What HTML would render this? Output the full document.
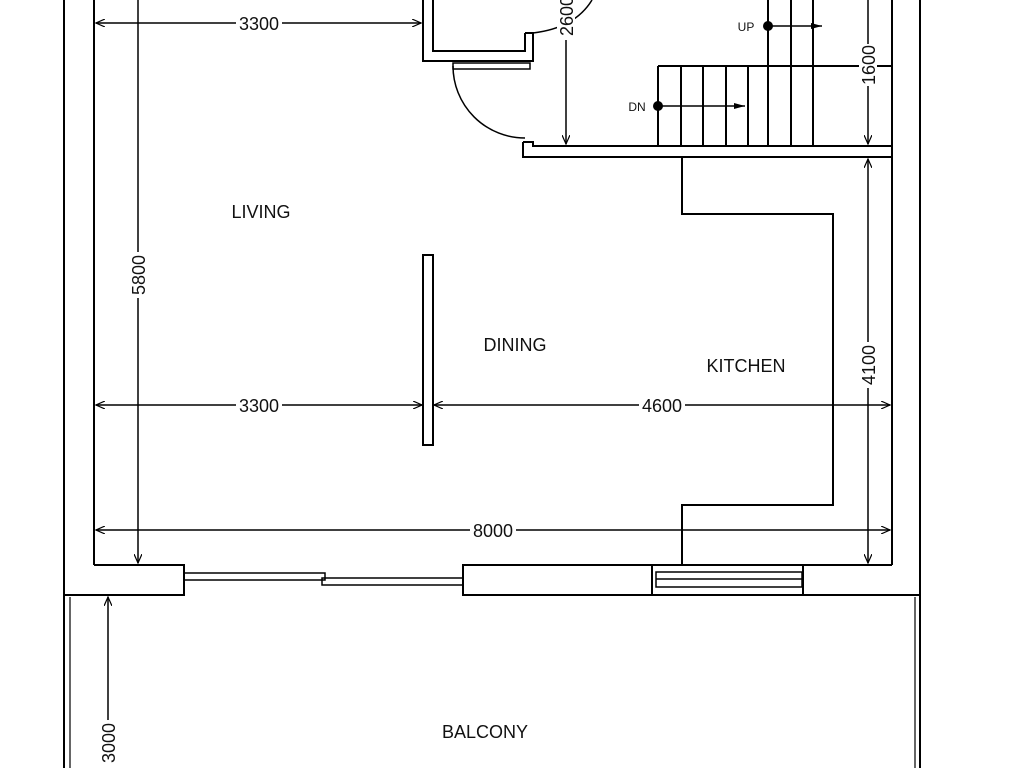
<!DOCTYPE html>
<html><head><meta charset="utf-8"><style>
html,body{margin:0;padding:0;background:#fff}
svg{display:block}
text{font-family:"Liberation Sans",sans-serif;fill:#111}
</style></head><body>
<svg width="1024" height="768" viewBox="0 0 1024 768" xmlns="http://www.w3.org/2000/svg">
<defs>
<marker id="a" markerWidth="10" markerHeight="8" refX="9" refY="4" orient="auto-start-reverse" markerUnits="userSpaceOnUse"><path d="M0,0 L9,4 L0,8" fill="none" stroke="#000" stroke-width="1.2"/></marker>
<marker id="f" markerWidth="12" markerHeight="8" refX="11" refY="4" orient="auto" markerUnits="userSpaceOnUse"><path d="M0,1 L11,4 L0,7 Z" fill="#000"/></marker>
</defs>
<g stroke="#000" stroke-width="2" fill="none">
<line x1="64" y1="0" x2="64" y2="768"/>
<line x1="94" y1="0" x2="94" y2="565"/>
<line x1="892" y1="0" x2="892" y2="565"/>
<line x1="920" y1="0" x2="920" y2="768"/>
<polyline points="423,0 423,61 533,61 533,33 525,33"/>
<polyline points="433,0 433,51 525,51 525,33"/>
<rect x="453" y="63" width="77" height="6" stroke-width="1.5"/>
<path d="M453,66 A72,72 0 0 0 525,138" stroke-width="1.5"/>
<path d="M533,33 Q575,28 592,0" stroke-width="1.5"/>
<polyline points="523,142 533,142 533,146 892,146"/>
<polyline points="523,142 523,157 892,157"/>
<line x1="658" y1="66" x2="892" y2="66"/>
<line x1="658" y1="66" x2="658" y2="146"/>
<line x1="681" y1="66" x2="681" y2="146"/>
<line x1="703" y1="66" x2="703" y2="146"/>
<line x1="726" y1="66" x2="726" y2="146"/>
<line x1="748" y1="66" x2="748" y2="146"/>
<line x1="768" y1="0" x2="768" y2="146"/>
<line x1="791" y1="0" x2="791" y2="146"/>
<line x1="813" y1="0" x2="813" y2="146"/>
<line x1="658" y1="106" x2="745" y2="106" stroke-width="1.5" marker-end="url(#f)"/>
<line x1="768" y1="26" x2="822" y2="26" stroke-width="1.5" marker-end="url(#f)"/>
<polyline points="682,157 682,214 833,214 833,505 682,505 682,565"/>
<rect x="423" y="255" width="10" height="190"/>
<polyline points="94,565 184,565 184,595 64,595"/>
<rect x="184" y="573" width="141" height="7" stroke-width="1.5"/>
<rect x="322" y="578" width="141" height="7" stroke-width="1.5"/>
<rect x="463" y="565" width="340" height="30"/>
<line x1="652" y1="565" x2="652" y2="595"/>
<rect x="656" y="572" width="146" height="15" stroke-width="1.5"/>
<line x1="656" y1="579" x2="802" y2="579" stroke-width="1.5"/>
<line x1="803" y1="565" x2="892" y2="565"/>
<line x1="803" y1="595" x2="920" y2="595"/>
<line x1="70" y1="597" x2="70" y2="768" stroke-width="1.2"/>
<line x1="915" y1="597" x2="915" y2="768" stroke-width="1.2"/>
</g>
<g stroke="#000" stroke-width="1.5" fill="none">
<line x1="96" y1="23" x2="421" y2="23" marker-start="url(#a)" marker-end="url(#a)"/>
<line x1="138" y1="0" x2="138" y2="563" marker-end="url(#a)"/>
<line x1="566" y1="0" x2="566" y2="144" marker-end="url(#a)"/>
<line x1="868" y1="0" x2="868" y2="144" marker-end="url(#a)"/>
<line x1="868" y1="159" x2="868" y2="563" marker-start="url(#a)" marker-end="url(#a)"/>
<line x1="96" y1="405" x2="422" y2="405" marker-start="url(#a)" marker-end="url(#a)"/>
<line x1="434" y1="405" x2="890" y2="405" marker-start="url(#a)" marker-end="url(#a)"/>
<line x1="96" y1="530" x2="890" y2="530" marker-start="url(#a)" marker-end="url(#a)"/>
<line x1="108" y1="768" x2="108" y2="597" marker-end="url(#a)"/>
</g>
<g font-size="18" text-anchor="middle">
<rect x="236" y="14" width="46" height="18" fill="#fff"/><text x="259" y="30">3300</text>
<rect x="236" y="396" width="46" height="18" fill="#fff"/><text x="259" y="412">3300</text>
<rect x="639" y="396" width="46" height="18" fill="#fff"/><text x="662" y="412">4600</text>
<rect x="470" y="521" width="46" height="18" fill="#fff"/><text x="493" y="537">8000</text>
<rect x="129" y="252" width="18" height="46" fill="#fff"/><text transform="translate(145,275) rotate(-90)">5800</text>
<rect x="557" y="0" width="18" height="40" fill="#fff"/><text transform="translate(573,16) rotate(-90)">2600</text>
<rect x="859" y="44" width="18" height="42" fill="#fff"/><text transform="translate(875,65) rotate(-90)">1600</text>
<rect x="859" y="342" width="18" height="46" fill="#fff"/><text transform="translate(875,365) rotate(-90)">4100</text>
<rect x="99" y="720" width="18" height="48" fill="#fff"/><text transform="translate(115,743) rotate(-90)">3000</text>
<text x="261" y="218">LIVING</text>
<text x="515" y="351">DINING</text>
<text x="746" y="372">KITCHEN</text>
<text x="485" y="738">BALCONY</text>
</g>
<g font-size="12" text-anchor="middle">
<text x="637" y="111">DN</text>
<text x="746" y="31">UP</text>
</g>
<circle cx="658" cy="106" r="5" fill="#000"/>
<circle cx="768" cy="26" r="5" fill="#000"/>
</svg>
</body></html>
